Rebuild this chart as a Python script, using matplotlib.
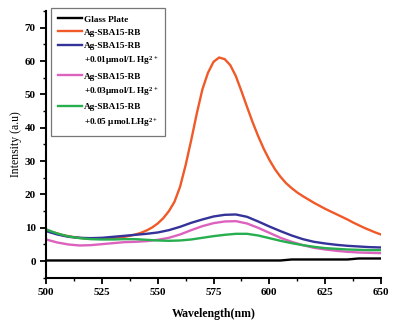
import matplotlib
matplotlib.use("Agg")
import matplotlib.pyplot as plt
from matplotlib.lines import Line2D
from matplotlib.ticker import MultipleLocator

# wavelength grids (nm)
wl = list(range(500, 655, 5))
wl_fine = [500 + 2.5 * i for i in range(61)]

glass = [0.2, 0.2, 0.2, 0.2, 0.2, 0.2, 0.2, 0.2, 0.2, 0.2, 0.2, 0.2, 0.2, 0.2, 0.2, 0.2,
         0.2, 0.2, 0.2, 0.2, 0.2, 0.2, 0.5, 0.5, 0.5, 0.5, 0.5, 0.5, 0.8, 0.8, 0.8]
rb = [9.5, 8.8, 8.3, 7.8, 7.5, 7.2, 7.0, 6.8, 6.7, 6.7, 6.7, 6.8, 6.9, 7.1, 7.3, 7.6,
      8.0, 8.5, 9.2, 10.1, 11.3, 12.9, 15.0, 17.8, 22.3, 28.8, 36.3, 44.3, 51.5, 56.5,
      59.8, 61.1, 60.6, 58.8, 55.5, 51.0, 46.3, 41.7, 37.5, 33.7, 30.4, 27.6, 25.3,
      23.4, 21.9, 20.6, 19.5, 18.5, 17.5, 16.6, 15.7, 14.9, 14.1, 13.3, 12.5, 11.6,
      10.8, 10.0, 9.3, 8.6, 8.0]
hg01 = [9.0, 8.0, 7.3, 7.0, 6.9, 7.0, 7.3, 7.6, 7.9, 8.2, 8.6, 9.3, 10.3, 11.5, 12.5,
        13.4, 13.9, 14.0, 13.3, 11.9, 10.4, 9.0, 7.7, 6.6, 5.8, 5.3, 4.9, 4.6, 4.4, 4.2, 4.1]
hg03 = [6.5, 5.6, 5.0, 4.7, 4.8, 5.1, 5.4, 5.7, 5.8, 6.0, 6.4, 7.0, 8.0, 9.3, 10.5,
        11.4, 11.9, 12.0, 11.3, 10.0, 8.5, 7.0, 5.8, 4.8, 4.0, 3.5, 3.1, 2.8, 2.6, 2.5, 2.4]
hg05 = [9.5, 8.3, 7.4, 6.9, 6.6, 6.5, 6.5, 6.6, 6.6, 6.4, 6.2, 6.1, 6.2, 6.5, 7.0,
        7.5, 7.9, 8.2, 8.2, 7.7, 6.9, 6.1, 5.4, 4.8, 4.3, 3.9, 3.7, 3.5, 3.4, 3.3, 3.3]

names = ["Glass Plate", "Ag-SBA15-RB", "Ag-SBA15-RB", "Ag-SBA15-RB", "Ag-SBA15-RB"]
extras = [None, None,
          "+0.01$\\mathregular{\\mu}$mol/L Hg$^{\\mathregular{2+}}$",
          "+0.03$\\mathregular{\\mu}$mol/L Hg$^{\\mathregular{2+}}$",
          "+0.05 $\\mathregular{\\mu}$mol.LHg$^{\\mathregular{2+}}$"]
colors = ["black", "#F05A28", "#343399", "#DC62BE", "#27AE4F"]

plt.rcParams["font.family"] = "Liberation Serif"
plt.rcParams["font.weight"] = "bold"
plt.rcParams["mathtext.default"] = "regular"

fig = plt.figure(figsize=(4.01, 3.28), dpi=100)
ax = fig.add_axes([0.115, 0.153, 0.835, 0.813])

series = [(wl, glass), (wl_fine, rb), (wl, hg01), (wl, hg03), (wl, hg05)]
handles, leg_labels = [], []
for (xs, ys), name, extra, c in zip(series, names, extras, colors):
    line, = ax.plot(xs, ys, color=c, lw=1.7)
    handles.append(line); leg_labels.append(name)
    if extra:
        handles.append(Line2D([], [], lw=0)); leg_labels.append(extra)

ax.set_xlim(500, 650)
ax.set_ylim(-5, 75)
ax.xaxis.set_major_locator(MultipleLocator(25))
ax.xaxis.set_minor_locator(MultipleLocator(12.5))
ax.yaxis.set_major_locator(MultipleLocator(10))
ax.yaxis.set_minor_locator(MultipleLocator(5))
ax.spines["top"].set_visible(False)
ax.spines["right"].set_visible(False)
ax.spines["left"].set_linewidth(1.5)
ax.spines["bottom"].set_linewidth(1.5)
ax.tick_params(which="major", direction="out", length=4, width=1.3, labelsize=8)
ax.tick_params(which="minor", direction="out", length=2.5, width=1.0)
for t in ax.get_xticklabels() + ax.get_yticklabels():
    t.set_fontweight("bold")

ax.set_xlabel("Wavelength(nm)", fontsize=8.5, fontweight="bold", labelpad=8)
ax.set_ylabel("Intensity (a.u)", fontsize=8.5, labelpad=2, fontweight="normal")

leg = ax.legend(handles, leg_labels, loc="upper left", fontsize=6.7, frameon=True,
                fancybox=False, edgecolor="#555555", handlelength=2.6,
                handletextpad=0.2, labelspacing=0.5, borderpad=0.7,
                borderaxespad=0.0, bbox_to_anchor=(0.015, 1.01))
leg.get_frame().set_linewidth(0.9)

fig.savefig("out.png", dpi=100)
